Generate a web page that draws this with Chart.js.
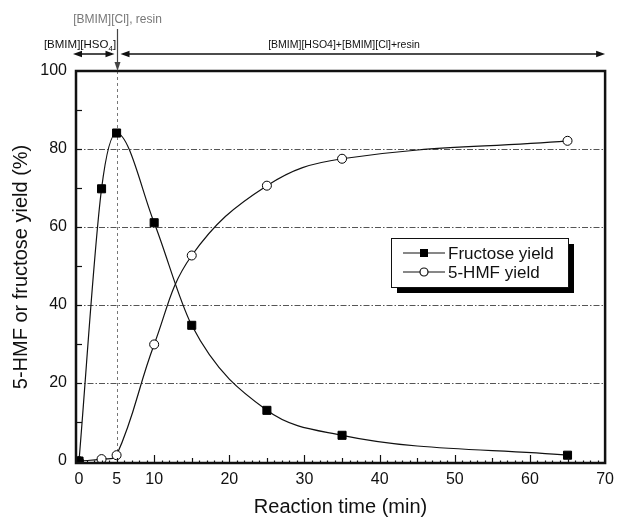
<!DOCTYPE html>
<html><head><meta charset="utf-8">
<script src="https://cdn.jsdelivr.net/npm/chart.js@4"></script>
<style>html,body{margin:0;padding:0;background:#fff}canvas{display:block}</style>
</head><body>
<canvas id="c" width="621" height="517"></canvas>
<script>
const times = [0, 3, 5, 10, 15, 25, 35, 65];
const fructoseYield = [0, 69.8, 84.1, 61.1, 34.8, 13.0, 6.6, 1.5];
const hmfYield = [0, 0.5, 1.5, 29.9, 52.7, 70.6, 77.5, 82.1];
const xTickValues = [0, 5, 10, 20, 30, 40, 50, 60, 70];
const yTickValues = [0, 20, 40, 60, 80, 100];
const yGridValues = [20, 40, 60, 80];
const seriesLabels = ['Fructose yield', '5-HMF yield'];
const xTitle = 'Reaction time (min)';
const yTitle = '5-HMF or fructose yield (%)';
const stageTime = 5;
const addLabel = '[BMIM][Cl], resin';
const stage1Label = ['[BMIM][HSO', '4', ']'];
const stage2Label = '[BMIM][HSO4]+[BMIM][Cl]+resin';

const FONT = '"Liberation Sans", Arial, sans-serif';
const INK = '#111';

function arrowHead(ctx, x, y, dir, len, half) {
  ctx.beginPath();
  if (dir === 'left') { ctx.moveTo(x, y); ctx.lineTo(x + len, y - half); ctx.lineTo(x + len, y + half); }
  else if (dir === 'right') { ctx.moveTo(x, y); ctx.lineTo(x - len, y - half); ctx.lineTo(x - len, y + half); }
  else if (dir === 'down') { ctx.moveTo(x, y); ctx.lineTo(x - half, y - len); ctx.lineTo(x + half, y - len); }
  ctx.closePath(); ctx.fill();
}

const decor = {
  id: 'decor',
  beforeDatasetsDraw(chart) {
    const {ctx, chartArea: a, scales: {x, y}} = chart;
    ctx.save();
    ctx.strokeStyle = '#555'; ctx.lineWidth = 1; ctx.setLineDash([6, 2, 1.5, 2]);
    yGridValues.forEach(v => {
      const py = Math.round(y.getPixelForValue(v)) + 0.5;
      ctx.beginPath(); ctx.moveTo(a.left, py); ctx.lineTo(a.right, py); ctx.stroke();
    });
    const sx = Math.round(x.getPixelForValue(stageTime)) + 0.5;
    ctx.setLineDash([3, 3]); ctx.strokeStyle = '#777';
    ctx.beginPath(); ctx.moveTo(sx, a.top); ctx.lineTo(sx, a.bottom); ctx.stroke();
    ctx.restore();
  },
  afterDatasetsDraw(chart) {
    const {ctx, chartArea: a, scales: {x, y}} = chart;
    ctx.save();
    ctx.strokeStyle = INK; ctx.lineWidth = 1.2; ctx.setLineDash([]);
    for (let t = 1; t < 70; t++) {
      const len = t % 10 === 0 ? 8 : (t % 5 === 0 ? 5 : 2.5);
      const px = Math.round(x.getPixelForValue(t)) + 0.5;
      ctx.beginPath(); ctx.moveTo(px, a.bottom); ctx.lineTo(px, a.bottom - len); ctx.stroke();
    }
    for (let v = 10; v < 100; v += 10) {
      const py = Math.round(y.getPixelForValue(v)) + 0.5;
      ctx.beginPath(); ctx.moveTo(a.left, py); ctx.lineTo(a.left + 6, py); ctx.stroke();
    }
    ctx.lineWidth = 2.5; ctx.strokeStyle = INK;
    ctx.strokeRect(a.left, a.top, a.right - a.left, a.bottom - a.top);

    const lx = a.left + 315, ly = a.top + 167, lw = 177, lh = 49;
    ctx.fillStyle = '#000'; ctx.fillRect(lx + 6, ly + 6, lw, lh);
    ctx.fillStyle = '#fff'; ctx.fillRect(lx, ly, lw, lh);
    ctx.lineWidth = 1; ctx.strokeStyle = INK; ctx.strokeRect(lx + 0.5, ly + 0.5, lw, lh);
    chart.data.datasets.forEach((ds, i) => {
      const ry = ly + 15 + i * 19;
      ctx.lineWidth = 1.2; ctx.strokeStyle = INK;
      ctx.beginPath(); ctx.moveTo(lx + 12, ry); ctx.lineTo(lx + 54, ry); ctx.stroke();
      const cx = lx + 33;
      if (ds.pointStyle === 'rect') { ctx.fillStyle = '#000'; ctx.fillRect(cx - 4, ry - 4, 8, 8); }
      else { ctx.fillStyle = '#fff'; ctx.beginPath(); ctx.arc(cx, ry, 4, 0, Math.PI * 2); ctx.fill(); ctx.stroke(); }
      ctx.fillStyle = INK; ctx.font = '17px ' + FONT; ctx.textBaseline = 'middle'; ctx.textAlign = 'left';
      ctx.fillText(ds.label, lx + 57, ry + 1);
    });

    const sx = Math.round(x.getPixelForValue(stageTime)) + 0.5;
    ctx.fillStyle = '#777'; ctx.font = '12px ' + FONT; ctx.textAlign = 'center'; ctx.textBaseline = 'middle';
    ctx.fillText(addLabel, sx, 20);
    ctx.strokeStyle = '#444'; ctx.fillStyle = '#444'; ctx.lineWidth = 1.2;
    ctx.beginPath(); ctx.moveTo(sx, 29); ctx.lineTo(sx, a.top - 6); ctx.stroke();
    arrowHead(ctx, sx, a.top, 'down', 9, 3);

    ctx.fillStyle = INK; ctx.strokeStyle = INK; ctx.lineWidth = 1.5;
    const ay = 54;
    const l1 = a.left - 3, r1 = sx - 3, l2 = sx + 3, r2 = a.right;
    ctx.beginPath(); ctx.moveTo(l1 + 6, ay); ctx.lineTo(r1 - 6, ay); ctx.stroke();
    arrowHead(ctx, l1, ay, 'left', 9, 3.2); arrowHead(ctx, r1, ay, 'right', 9, 3.2);
    ctx.beginPath(); ctx.moveTo(l2 + 6, ay); ctx.lineTo(r2 - 6, ay); ctx.stroke();
    arrowHead(ctx, l2, ay, 'left', 9, 3.2); arrowHead(ctx, r2, ay, 'right', 9, 3.2);

    ctx.font = '11.5px ' + FONT; ctx.textAlign = 'left'; ctx.textBaseline = 'alphabetic';
    const w0 = ctx.measureText(stage1Label[0]).width;
    ctx.font = '8px ' + FONT; const w1 = ctx.measureText(stage1Label[1]).width;
    ctx.font = '11.5px ' + FONT; const w2 = ctx.measureText(stage1Label[2]).width;
    let tx = a.left + 4 - (w0 + w1 + w2) / 2;
    const base = 48;
    ctx.fillText(stage1Label[0], tx, base); tx += w0;
    ctx.font = '8px ' + FONT; ctx.fillText(stage1Label[1], tx, base + 3); tx += w1;
    ctx.font = '11.5px ' + FONT; ctx.fillText(stage1Label[2], tx, base);
    ctx.textAlign = 'center';
    ctx.font = '10.5px ' + FONT;
    ctx.fillText(stage2Label, 344, base);
    ctx.restore();
  }
};

new Chart(document.getElementById('c'), {
  type: 'line',
  data: {
    datasets: [
      {
        label: seriesLabels[0],
        data: times.map((t, i) => ({x: t, y: fructoseYield[i]})),
        borderColor: INK, borderWidth: 1.2, cubicInterpolationMode: 'monotone', fill: false,
        pointStyle: 'rect', pointRadius: 5.7, pointBackgroundColor: '#000', pointBorderColor: '#000', pointBorderWidth: 1
      },
      {
        label: seriesLabels[1],
        data: times.map((t, i) => ({x: t, y: hmfYield[i]})),
        borderColor: INK, borderWidth: 1.2, tension: 0.4, fill: false,
        pointStyle: 'circle', pointRadius: 4.5, pointBackgroundColor: '#fff', pointBorderColor: '#000', pointBorderWidth: 1
      }
    ]
  },
  options: {
    responsive: false, animation: false,
    layout: {padding: {top: 71, right: 11, left: 0, bottom: 0}},
    plugins: {legend: {display: false}, tooltip: {enabled: false}},
    scales: {
      x: {
        type: 'linear', min: -0.4, max: 70,
        afterBuildTicks: s => { s.ticks = xTickValues.map(v => ({value: v})); },
        afterFit: s => { s.height = 54; },
        grid: {display: false, drawTicks: false}, border: {display: false},
        ticks: {color: INK, font: {family: FONT, size: 16}, padding: 7, maxRotation: 0, autoSkip: false},
        title: {display: true, text: xTitle, color: INK, font: {family: FONT, size: 20, lineHeight: 1}, padding: {top: 0, bottom: 0}}
      },
      y: {
        min: -0.5, max: 100,
        afterBuildTicks: s => { s.ticks = yTickValues.map(v => ({value: v})); },
        afterFit: s => { s.width = 76; },
        grid: {display: false, drawTicks: false}, border: {display: false},
        ticks: {color: INK, font: {family: FONT, size: 16}, padding: 9},
        title: {display: true, text: yTitle, color: INK, font: {family: FONT, size: 20, lineHeight: 1}, padding: {top: 11, bottom: 0}}
      }
    }
  },
  plugins: [decor]
});
</script>
</body></html>
